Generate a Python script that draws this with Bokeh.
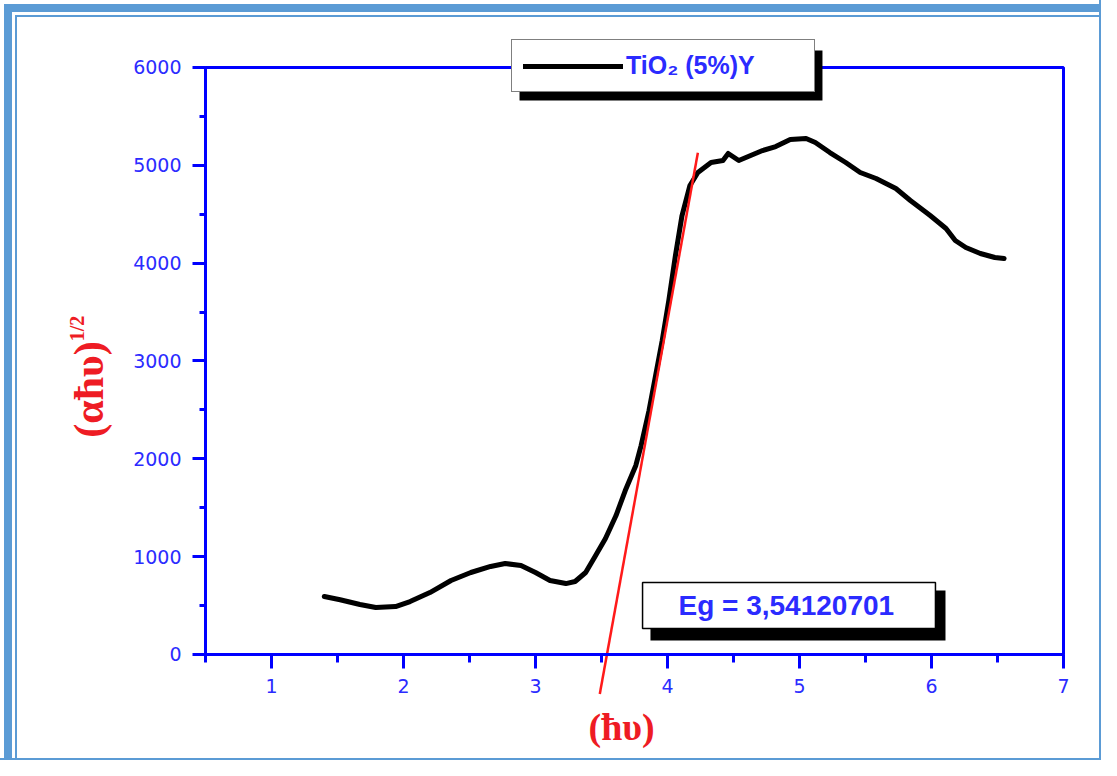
import math
from bokeh.plotting import figure
from bokeh.embed import file_html
from bokeh.resources import INLINE
from bokeh.models import (Label, BoxAnnotation, Legend, LegendItem,
                          SingleIntervalTicker, Range1d)

# ---- data ----
energy = [1.40, 1.52, 1.67, 1.79, 1.94, 2.05, 2.20, 2.36, 2.51, 2.66, 2.77,
          2.89, 3.00, 3.11, 3.23, 3.30, 3.38, 3.45, 3.53, 3.61, 3.68, 3.76,
          3.80, 3.86, 3.91, 3.96, 4.01, 4.06, 4.11, 4.17, 4.23, 4.33, 4.42,
          4.46, 4.54, 4.63, 4.72, 4.82, 4.93, 5.05, 5.12, 5.23, 5.35, 5.46,
          5.58, 5.73, 5.84, 5.99, 6.11, 6.18, 6.26, 6.37, 6.48, 6.55]
signal = [593, 560, 511, 480, 490, 541, 633, 756, 838, 900, 930,
          910, 838, 756, 725, 746, 838, 1000, 1186, 1420, 1676, 1932,
          2136, 2494, 2852, 3210, 3619, 4078, 4487, 4794, 4927, 5029, 5049,
          5121, 5049, 5100, 5151, 5192, 5264, 5274, 5233, 5131, 5029, 4927,
          4865, 4763, 4641, 4487, 4354, 4232, 4160, 4099, 4058, 4048]
series_label = "TiO\u2082 (5%)Y"

eg_value = 3.54120701
tangent_slope = 7445.0
tangent_x = [3.487, 4.23]
tangent_y = [tangent_slope * (x - eg_value) for x in tangent_x]
eg_text = "Eg = 3,54120701"

x_axis_range = (0.5, 7)
y_axis_range = (0, 6000)
x_ticks_interval = 1
y_ticks_interval = 1000

BLUE = "#0000ff"
TXT_BLUE = "#2b2bff"
RED = "#ee1c24"

W, H = 1101, 760
p = figure(width=W, height=H,
           x_range=Range1d(-1.05303, 7.28788), y_range=Range1d(-1083.5, 6684.8),
           output_backend="svg", toolbar_location=None,
           min_border_left=0, min_border_right=0,
           min_border_top=0, min_border_bottom=0)
p.xgrid.visible = False
p.ygrid.visible = False
p.outline_line_color = None
p.border_fill_alpha = 0
p.background_fill_alpha = 0
p.styles = {
    "box-shadow": ("inset -2px -2px 0 0 #5b9bd5, "
                   "inset 4px 4px 0 0 #ffffff, inset 12px 12px 0 0 #5b9bd5, "
                   "inset 15px 15px 0 0 #ffffff, inset 17px 17px 0 0 #5b9bd5"),
}

# axes
xa = p.xaxis[0]
xa.fixed_location = 0
xa.bounds = x_axis_range
xa.ticker = SingleIntervalTicker(interval=x_ticks_interval, num_minor_ticks=2)
ya = p.yaxis[0]
ya.fixed_location = 0.5
ya.bounds = y_axis_range
ya.ticker = SingleIntervalTicker(interval=y_ticks_interval, num_minor_ticks=2)
for ax in (xa, ya):
    ax.axis_line_color = BLUE
    ax.axis_line_width = 3
    ax.major_tick_line_color = BLUE
    ax.major_tick_line_width = 3
    ax.minor_tick_line_color = BLUE
    ax.minor_tick_line_width = 3
    ax.major_tick_in = 0
    ax.minor_tick_in = 0
    ax.major_label_text_color = TXT_BLUE
    ax.major_label_text_font = "DejaVu Sans"
    ax.major_label_text_font_size = "19px"
    ax.major_label_standoff = 11
xa.major_tick_out = 14
xa.minor_tick_out = 8
ya.major_tick_out = 13
ya.minor_tick_out = 6

# data
curve = p.line(energy, signal, line_color="black", line_width=5,
               line_join="round", line_cap="round")
p.line(tangent_x, tangent_y, line_color="#ff1a1a", line_width=2.5)

# frame box (top/right sides)
p.add_layout(BoxAnnotation(left=x_axis_range[0], right=x_axis_range[1],
                           bottom=y_axis_range[0], top=y_axis_range[1],
                           fill_color=None, line_color=BLUE, line_alpha=1,
                           line_width=3))

# axis titles
p.add_layout(Label(x=3.652, y=-737, text="(\u0127\u03c5)", text_color=RED,
                   text_font="Liberation Serif", text_font_style="bold",
                   text_font_size="38px", text_align="center",
                   text_baseline="middle"))
p.add_layout(Label(x=-0.386, y=2709, text="(\u03b1\u0127\u03c5)", angle=math.pi / 2,
                   text_color=RED, text_font="Liberation Serif",
                   text_font_style="bold", text_font_size="42px",
                   text_align="center", text_baseline="middle"))
p.add_layout(Label(x=-0.47, y=3332, text="1/2", angle=math.pi / 2,
                   text_color=RED, text_font="Liberation Serif",
                   text_font_style="bold", text_font_size="20px",
                   text_align="center", text_baseline="middle"))

# Eg box with shadow
p.add_layout(BoxAnnotation(left=3.871, right=6.106, bottom=143, top=654,
                           fill_color="black", fill_alpha=1, line_color=None))
p.add_layout(BoxAnnotation(left=3.811, right=6.030, bottom=266, top=736,
                           fill_color="white", fill_alpha=1,
                           line_color="black", line_alpha=1, line_width=1.5))
p.add_layout(Label(x=4.90, y=501, text=eg_text, text_color=TXT_BLUE,
                   text_font="Liberation Sans", text_font_style="bold",
                   text_font_size="28px", text_align="center",
                   text_baseline="middle"))

# legend with shadow
p.add_layout(BoxAnnotation(left=2.879, right=5.174, bottom=5663, top=6174,
                           fill_color="black", fill_alpha=1, line_color=None))
legend = Legend(items=[LegendItem(label=series_label, renderers=[curve])],
                location=(511, H - 92), padding=11, margin=0, spacing=0,
                glyph_width=100, label_width=177, label_standoff=3,
                label_text_font="Liberation Sans", label_text_font_style="bold",
                label_text_font_size="25px", label_text_color=TXT_BLUE,
                border_line_color="black", border_line_width=1.5,
                background_fill_color="white", background_fill_alpha=1)
p.add_layout(legend, "center")

open("out.html", "w").write(file_html(p, INLINE))
